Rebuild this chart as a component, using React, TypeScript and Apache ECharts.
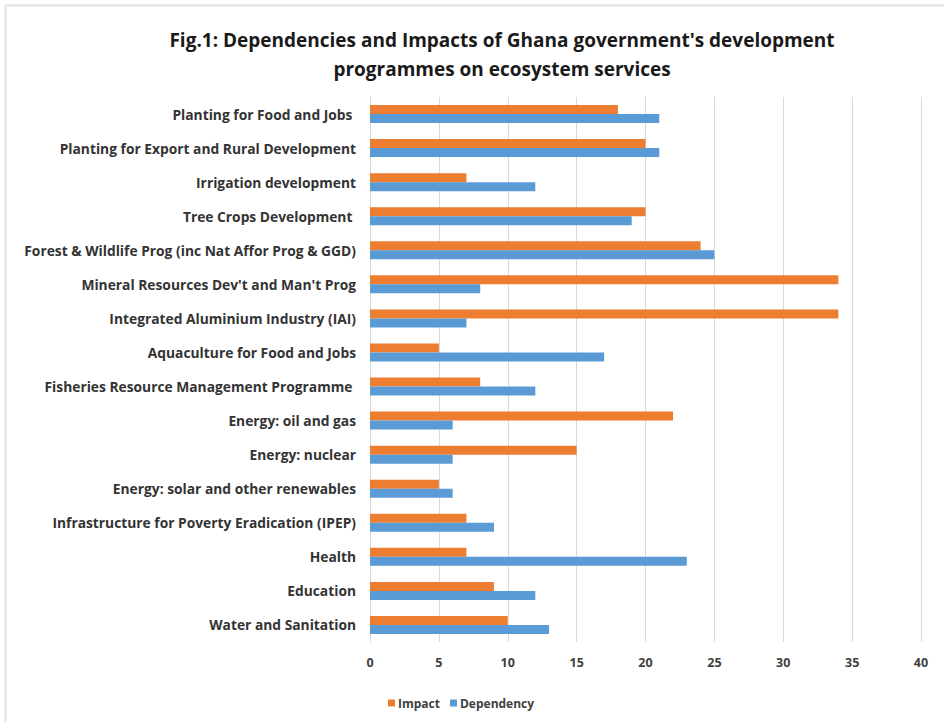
import React, { useEffect, useRef } from "react";
import * as echarts from "echarts";

const categories = [
  "Planting for Food and Jobs ",
  "Planting for Export and Rural Development",
  "Irrigation development",
  "Tree Crops Development ",
  "Forest & Wildlife Prog (inc Nat Affor Prog & GGD)",
  "Mineral Resources Dev't and Man't Prog",
  "Integrated Aluminium Industry (IAI)",
  "Aquaculture for Food and Jobs",
  "Fisheries Resource Management Programme ",
  "Energy: oil and gas",
  "Energy: nuclear",
  "Energy: solar and other renewables",
  "Infrastructure for Poverty Eradication (IPEP)",
  "Health",
  "Education",
  "Water and Sanitation",
];
const impact = [18, 20, 7, 20, 24, 34, 34, 5, 8, 22, 15, 5, 7, 7, 9, 10];
const dependency = [21, 21, 12, 19, 25, 8, 7, 17, 12, 6, 6, 6, 9, 23, 12, 13];
const xTicks = { min: 0, max: 40, interval: 5 };

const FONT = "'Open Sans', 'Noto Sans', sans-serif";

export default function App() {
  const ref = useRef<HTMLDivElement>(null);
  useEffect(() => {
    if (!ref.current) return;
    const chart = echarts.init(ref.current, undefined, { renderer: "svg" });
    chart.setOption({
      animation: false,
      backgroundColor: "#ffffff",
      title: {
        text: "Fig.1: Dependencies and Impacts of Ghana government's development\nprogrammes on ecosystem services",
        left: 497,
        textAlign: "center",
        top: 20,
        textStyle: {
          fontFamily: FONT,
          fontSize: 19,
          fontWeight: "bold",
          color: "#1a1a1a",
          lineHeight: 29,
        },
      },
      graphic: [
        { type: "line", shape: { x1: 5.5, y1: 5.5, x2: 944, y2: 5.5 }, style: { stroke: "#e2e2e2", lineWidth: 2 } },
        { type: "line", shape: { x1: 5.5, y1: 5.5, x2: 5.5, y2: 722 }, style: { stroke: "#e2e2e2", lineWidth: 2 } },
      ],
      legend: {
        data: ["Impact", "Dependency"],
        left: 383,
        top: 692,
        itemWidth: 7,
        itemHeight: 7,
        itemGap: 10,
        icon: "rect",
        textStyle: { fontFamily: FONT, fontSize: 12, fontWeight: "bold", color: "#404040", padding: [0, 0, 0, -2] },
      },
      grid: { left: 370, right: 23, top: 97, bottom: 80, containLabel: false },
      xAxis: {
        type: "value",
        min: xTicks.min,
        max: xTicks.max,
        interval: xTicks.interval,
        axisLine: { show: false },
        axisTick: { show: false },
        splitLine: { lineStyle: { color: "#d9d9d9", width: 1 } },
        axisLabel: { fontFamily: FONT, fontSize: 12.5, fontWeight: "bold", color: "#404040", margin: 14 },
      },
      yAxis: {
        type: "category",
        data: categories,
        inverse: true,
        axisLine: { show: true, lineStyle: { color: "#d9d9d9" } },
        axisTick: { show: false },
        axisLabel: { fontFamily: FONT, fontSize: 13.8, fontWeight: "bold", color: "#333333", margin: 14 },
      },
      series: [
        {
          name: "Impact",
          type: "bar",
          data: impact,
          itemStyle: { color: "#ed7d31" },
          barWidth: 9,
          barGap: "0%",
        },
        {
          name: "Dependency",
          type: "bar",
          data: dependency,
          itemStyle: { color: "#5b9bd5" },
          barWidth: 9,
          barGap: "0%",
        },
      ],
    });
    return () => chart.dispose();
  }, []);
  return (
    <div
      ref={ref}
      style={{ position: "fixed", left: 0, top: 0, width: 944, height: 722 }}
    />
  );
}
